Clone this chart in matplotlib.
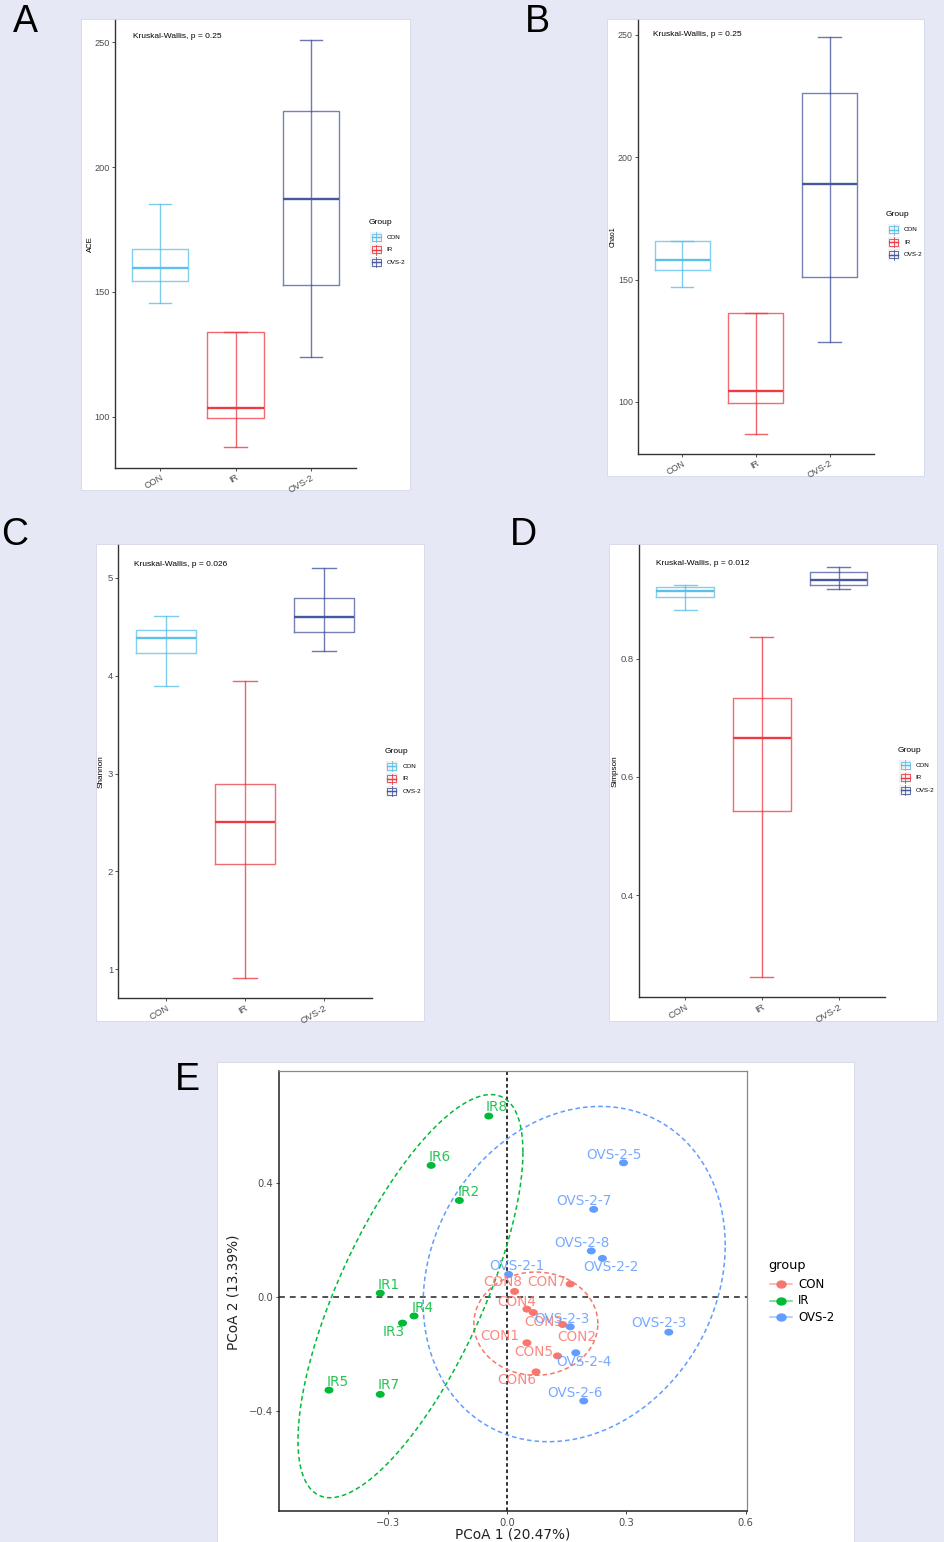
import numpy as np
import matplotlib
matplotlib.use("Agg")
import matplotlib.pyplot as plt
from matplotlib.patches import Rectangle
from matplotlib.lines import Line2D
from matplotlib.path import Path
from matplotlib.transforms import Affine2D

# ---------------- data ----------------
groups = ["CON", "IR", "OVS-2"]

# five-number boxes: [lower whisker, Q1, median, Q3, upper whisker]
ace_con = [145.5, 154.4, 159.5, 167.1, 185.1]
ace_ir = [87.8, 99.4, 103.7, 134.0, 134.0]
ace_ovs = [124.1, 152.8, 187.4, 222.5, 251.0]

chao1_con = [146.9, 153.9, 157.8, 165.7, 165.7]
chao1_ir = [87.0, 99.4, 104.3, 136.2, 136.2]
chao1_ovs = [124.3, 150.9, 188.9, 226.3, 249.3]

shannon_con = [3.897, 4.227, 4.380, 4.466, 4.610]
shannon_ir = [0.908, 2.079, 2.508, 2.896, 3.950]
shannon_ovs = [4.251, 4.442, 4.595, 4.789, 5.100]

simpson_con = [0.882, 0.904, 0.915, 0.921, 0.925]
simpson_ir = [0.262, 0.542, 0.666, 0.733, 0.836]
simpson_ovs = [0.918, 0.924, 0.934, 0.947, 0.956]

metric_names = ["ACE", "Chao1", "Shannon", "Simpson"]
kw_pvalues = ["0.25", "0.25", "0.026", "0.012"]
ace_ticks = [100, 150, 200, 250]
chao1_ticks = [100, 150, 200, 250]
shannon_ticks = [1, 2, 3, 4, 5]
simpson_ticks = [0.4, 0.6, 0.8]

# PCoA
sample_names = ["IR1", "IR2", "IR3", "IR4", "IR5", "IR6", "IR7", "IR8",
                "CON1", "CON2", "CON3", "CON4", "CON5", "CON6", "CON7", "CON8",
                "OVS-2-1", "OVS-2-2", "OVS-2-3", "OVS-2-3", "OVS-2-4", "OVS-2-5",
                "OVS-2-6", "OVS-2-7", "OVS-2-8"]
sample_group = ["IR"] * 8 + ["CON"] * 8 + ["OVS-2"] * 9
pc1 = [-0.319, -0.120, -0.263, -0.234, -0.448, -0.191, -0.319, -0.046,
       0.050, 0.140, 0.066, 0.050, 0.127, 0.073, 0.159, 0.019,
       0.004, 0.240, 0.159, 0.407, 0.173, 0.293, 0.193, 0.218, 0.212]
pc2 = [0.014, 0.339, -0.091, -0.066, -0.326, 0.462, -0.341, 0.635,
       -0.160, -0.096, -0.054, -0.042, -0.206, -0.262, 0.046, 0.020,
       0.080, 0.136, -0.104, -0.123, -0.195, 0.471, -0.364, 0.308, 0.162]
# confidence ellipses per group (CON, IR, OVS-2):
# centre, half-extent along PCoA1 / PCoA2, and correlation
ellipse_cx = [0.0725, -0.243, 0.169]
ellipse_cy = [-0.093, 0.0035, 0.081]
ellipse_sx = [0.156, 0.283, 0.380]
ellipse_sy = [0.181, 0.707, 0.588]
ellipse_r = [0.0, 0.715, 0.172]
pcoa_ticks_x = [-0.3, 0.0, 0.3, 0.6]
pcoa_ticks_y = [-0.4, 0.0, 0.4]
pc1_label = "PCoA 1 (20.47%)"
pc2_label = "PCoA 2 (13.39%)"

# ---------------- style / layout ----------------
W, H = 944, 1542
BG = "#E6E9F5"
box_colors = {"CON": "#5BC0EA", "IR": "#EE3A43", "OVS-2": "#46569F"}
pcoa_colors = {"CON": "#F8766D", "IR": "#00BA38", "OVS-2": "#619CFF"}
# label offsets (pixels, +x right, +y down)
label_offsets = [(8, -8), (9, -8), (-9, 9), (9, -8), (9, -8), (9, -8), (8, -9), (8, -9),
                 (-27, -7), (14, 12), (10, 9), (-10, -7), (-24, -4), (-19, 8), (-23, -2), (-12, -9),
                 (8, -8), (9, 9), (-8, -8), (-10, -9), (8, 9), (-9, -8), (-9, -8), (-10, -8), (-9, -8)]

SANS = "Liberation Sans"

fig = plt.figure(figsize=(W / 100, H / 100), dpi=100)
fig.patch.set_facecolor(BG)

bg = fig.add_axes([0, 0, 1, 1], zorder=0)
bg.set_xlim(0, W)
bg.set_ylim(H, 0)
bg.axis("off")

# white panels
for (x0, y0, x1, y1) in [(81, 19, 410, 490), (607, 19, 924, 476),
                         (96, 544, 424, 1021), (609, 544, 937, 1021),
                         (217, 1062, 854, 1542)]:
    bg.add_patch(Rectangle((x0, y0), x1 - x0, y1 - y0, facecolor="white",
                           edgecolor="#D3D7E6", lw=0.6))

# panel letters
for letter, (lx, ly) in zip("ABCDE", [(25.5, 21.5), (537, 21.5), (15, 535),
                                     (523, 535), (187.5, 1080)]):
    bg.text(lx, ly, letter, fontsize=27, family=SANS, ha="center", va="center")


def px_axes(x0, y0, x1, y1):
    return fig.add_axes([x0 / W, 1 - y1 / H, (x1 - x0) / W, (y1 - y0) / H], zorder=1)


def box_panel(rect, data, ylim, yticks, ylabel, pval, text_xy, ylab_x, ylab_fs, tick_fs):
    ax = px_axes(*rect)
    stats = [dict(whislo=d[0], q1=d[1], med=d[2], q3=d[3], whishi=d[4]) for d in data]
    pos = [1, 2, 3]
    art = ax.bxp(stats, positions=pos, widths=0.75, showfliers=False,
                 capwidths=0.3, patch_artist=False)
    for i, g in enumerate(groups):
        c = box_colors[g]
        art["boxes"][i].set(color=c, lw=1.0, alpha=0.75)
        art["medians"][i].set(color=c, lw=1.7, alpha=1.0)
        for j in (2 * i, 2 * i + 1):
            art["whiskers"][j].set(color=c, lw=1.0, alpha=0.8)
            art["caps"][j].set(color=c, lw=1.0, alpha=0.8)
    # errorbar line passing through the box
    ax.vlines(pos, [d[1] for d in data], [d[3] for d in data],
              colors=[box_colors[g] for g in groups], lw=1.0, alpha=0.75)
    ax.set_xlim(0.4, 3.6)
    ax.set_ylim(*ylim)
    ax.set_yticks(yticks)
    ax.set_xticks(pos)
    ax.set_xticklabels(groups, rotation=30, ha="right", rotation_mode="anchor",
                       family=SANS, fontsize=tick_fs, color="#4D4D4D")
    for t in ax.get_yticklabels():
        t.set_family(SANS)
        t.set_fontsize(tick_fs)
        t.set_color("#4D4D4D")
    ax.tick_params(length=2.2, width=0.6, color="#333333", pad=1.5)
    for s in ("top", "right"):
        ax.spines[s].set_visible(False)
    for s in ("left", "bottom"):
        ax.spines[s].set_color("#333333")
        ax.spines[s].set_linewidth(1.0)
    ax.set_ylabel(ylabel, family=SANS, fontsize=ylab_fs, va="center")
    ax.yaxis.set_label_coords(ylab_x, 0.5)
    ax.text(text_xy[0], text_xy[1], "Kruskal-Wallis, p = " + pval, transform=ax.transAxes,
            family=SANS, fontsize=6, ha="left", va="center")
    return ax


def box_legend(x, y, title_fs=6.1, fs=4.5, dy=12.5):
    bg.text(x, y, "Group", family=SANS, fontsize=title_fs, ha="left", va="center")
    for i, g in enumerate(groups):
        c = box_colors[g]
        cy = y + 14.5 + i * dy
        kx = x + 1.5
        bg.add_patch(Rectangle((kx, cy - 5.5), 12, 11, facecolor="#F0F0F0", edgecolor="none"))
        bg.add_patch(Rectangle((kx + 1.5, cy - 3.5), 9, 7, fill=False, edgecolor=c, lw=0.6))
        bg.add_line(Line2D([kx + 6, kx + 6], [cy - 5, cy + 5], color=c, lw=0.6))
        bg.add_line(Line2D([kx + 1.5, kx + 10.5], [cy, cy], color=c, lw=1.0))
        bg.text(kx + 16.5, cy, g, family=SANS, fontsize=fs, ha="left", va="center")


box_panel((115, 20, 356, 467.7), [ace_con, ace_ir, ace_ovs], (79.6, 258.9), ace_ticks,
          metric_names[0], kw_pvalues[0], (0.073, 0.963), -0.100, 5.6, 6.6)
box_legend(368.7, 222.7)
box_panel((638, 20, 873.7, 453.7), [chao1_con, chao1_ir, chao1_ovs], (78.8, 256.1), chao1_ticks,
          metric_names[1], kw_pvalues[1], (0.062, 0.967), -0.107, 5.0, 6.4)
box_legend(886, 215)
box_panel((118.3, 545, 371.7, 998.3), [shannon_con, shannon_ir, shannon_ovs], (0.704, 5.334),
          shannon_ticks, metric_names[2], kw_pvalues[2], (0.063, 0.956), -0.066, 5.9, 6.8)
box_legend(384.3, 751.7)
box_panel((639, 545, 884.7, 997.3), [simpson_con, simpson_ir, simpson_ovs], (0.227, 0.9925),
          simpson_ticks, metric_names[3], kw_pvalues[3], (0.069, 0.958), -0.096, 5.9, 6.8)
box_legend(897.7, 750.7)


# ---------------- PCoA panel ----------------
def ellipse_points(cx, cy, sx, sy, r, segments=120):
    cov = np.array([[sx * sx, r * sx * sy], [r * sx * sy, sy * sy]])
    L = np.linalg.cholesky(cov)
    ang = np.linspace(0, 2 * np.pi, segments + 1)
    circ = np.vstack([np.cos(ang), np.sin(ang)])
    pts = L @ circ
    return cx + pts[0], cy + pts[1]


axe = px_axes(279.3, 1071.3, 746.7, 1511.3)
axe.axvline(0, color="#222222", ls=(0, (2, 1.5)), lw=1.3, zorder=1)
axe.axhline(0, color="#333333", ls=(0, (3.5, 3)), lw=1.2, zorder=1)

pc1_arr = np.array(pc1)
pc2_arr = np.array(pc2)
grp_arr = np.array(sample_group)
oval = Path.unit_circle().transformed(Affine2D().scale(1.3, 1.0))
for i, g in enumerate(groups):
    ex, ey = ellipse_points(ellipse_cx[i], ellipse_cy[i], ellipse_sx[i],
                            ellipse_sy[i], ellipse_r[i])
    axe.plot(ex, ey, color=pcoa_colors[g], ls=(0, (3, 2)), lw=1.1, zorder=2)
    m = grp_arr == g
    axe.scatter(pc1_arr[m], pc2_arr[m], s=42, marker=oval, color=pcoa_colors[g],
                edgecolors="none", zorder=3)

for name, g, xv, yv, (dx, dy) in zip(sample_names, sample_group, pc1, pc2, label_offsets):
    axe.annotate(name, (xv, yv), xytext=(dx / 1.389, -dy / 1.389), textcoords="offset points",
                 ha="center", va="center", fontsize=9.8, family="DejaVu Sans",
                 color=pcoa_colors[g], alpha=0.85, zorder=4)

axe.set_xlim(-0.573, 0.603)
axe.set_ylim(-0.751, 0.792)
axe.set_xticks(pcoa_ticks_x)
axe.set_yticks(pcoa_ticks_y)
axe.set_xticklabels([f"{v:.1f}".replace("-", "\u2212") for v in pcoa_ticks_x],
                    family="DejaVu Sans", fontsize=7.2, color="#4D4D4D")
axe.set_yticklabels([f"{v:.1f}".replace("-", "\u2212") for v in pcoa_ticks_y],
                    family="DejaVu Sans", fontsize=7.2, color="#4D4D4D")
axe.tick_params(length=2.5, width=0.7, color="#444444", pad=2)
for s in ("left", "bottom"):
    axe.spines[s].set_color("#222222")
    axe.spines[s].set_linewidth(1.1)
for s in ("top", "right"):
    axe.spines[s].set_color("#888888")
    axe.spines[s].set_linewidth(0.9)
axe.set_xlabel(pc1_label, family="DejaVu Sans", fontsize=9.8, color="#222222", va="center")
axe.xaxis.set_label_coords(0.5, -0.0516)
axe.set_ylabel(pc2_label, family="DejaVu Sans", fontsize=9.8, color="#222222", va="center")
axe.yaxis.set_label_coords(-0.0976, 0.498)

# PCoA legend
bg.text(768.3, 1265, "group", family="DejaVu Sans", fontsize=9.3, ha="left", va="center")
for i, g in enumerate(groups):
    cy = 1284 + i * 16.6
    c = pcoa_colors[g]
    bg.add_line(Line2D([770, 791.7], [cy, cy], color=c, lw=1.1, alpha=0.6))
    bg.add_line(Line2D([780.8], [cy], color=c, marker=oval, markersize=6.5, ls="none"))
    bg.text(798.3, cy, g, family="DejaVu Sans", fontsize=8.5, ha="left", va="center")

fig.savefig("out.png", dpi=100, facecolor=BG)
